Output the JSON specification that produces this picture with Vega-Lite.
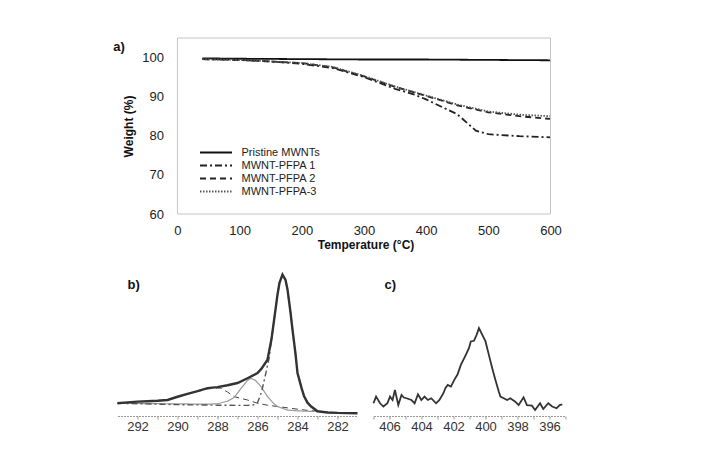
{
  "$schema": "https://vega.github.io/schema/vega-lite/v6.json",
  "padding": {"left": 112.5, "top": 37, "right": 5, "bottom": 5},
  "autosize": {"type": "pad"},
  "background": "white",
  "config": {"font": "Liberation Sans", "view": {"stroke": null}},
  "spacing": 18,
  "resolve": {
    "scale": {"color": "independent", "strokeDash": "independent", "strokeWidth": "independent"},
    "legend": {"color": "independent", "strokeDash": "independent", "strokeWidth": "independent"}
  },
  "datasets": {
    "tga": [
      {"s": "Pristine MWNTs", "T": 40, "w": 99.8},
      {"s": "Pristine MWNTs", "T": 100, "w": 99.7},
      {"s": "Pristine MWNTs", "T": 200, "w": 99.6},
      {"s": "Pristine MWNTs", "T": 300, "w": 99.5},
      {"s": "Pristine MWNTs", "T": 400, "w": 99.5},
      {"s": "Pristine MWNTs", "T": 500, "w": 99.4},
      {"s": "Pristine MWNTs", "T": 600, "w": 99.3},
      {"s": "MWNT-PFPA 1", "T": 40, "w": 99.6},
      {"s": "MWNT-PFPA 1", "T": 100, "w": 99.4},
      {"s": "MWNT-PFPA 1", "T": 150, "w": 99.0},
      {"s": "MWNT-PFPA 1", "T": 200, "w": 98.4},
      {"s": "MWNT-PFPA 1", "T": 250, "w": 97.3},
      {"s": "MWNT-PFPA 1", "T": 300, "w": 95.0},
      {"s": "MWNT-PFPA 1", "T": 350, "w": 92.0},
      {"s": "MWNT-PFPA 1", "T": 380, "w": 90.6},
      {"s": "MWNT-PFPA 1", "T": 400, "w": 89.3},
      {"s": "MWNT-PFPA 1", "T": 450, "w": 85.5},
      {"s": "MWNT-PFPA 1", "T": 480, "w": 81.3},
      {"s": "MWNT-PFPA 1", "T": 500, "w": 80.4},
      {"s": "MWNT-PFPA 1", "T": 550, "w": 79.9},
      {"s": "MWNT-PFPA 1", "T": 600, "w": 79.6},
      {"s": "MWNT-PFPA 2", "T": 40, "w": 99.6},
      {"s": "MWNT-PFPA 2", "T": 100, "w": 99.4},
      {"s": "MWNT-PFPA 2", "T": 150, "w": 99.0},
      {"s": "MWNT-PFPA 2", "T": 200, "w": 98.6},
      {"s": "MWNT-PFPA 2", "T": 250, "w": 97.5},
      {"s": "MWNT-PFPA 2", "T": 300, "w": 95.2},
      {"s": "MWNT-PFPA 2", "T": 350, "w": 92.5},
      {"s": "MWNT-PFPA 2", "T": 400, "w": 90.2},
      {"s": "MWNT-PFPA 2", "T": 450, "w": 87.8},
      {"s": "MWNT-PFPA 2", "T": 500, "w": 86.0},
      {"s": "MWNT-PFPA 2", "T": 550, "w": 85.0},
      {"s": "MWNT-PFPA 2", "T": 600, "w": 84.3},
      {"s": "MWNT-PFPA-3", "T": 40, "w": 99.6},
      {"s": "MWNT-PFPA-3", "T": 100, "w": 99.4},
      {"s": "MWNT-PFPA-3", "T": 150, "w": 99.0},
      {"s": "MWNT-PFPA-3", "T": 200, "w": 98.6},
      {"s": "MWNT-PFPA-3", "T": 250, "w": 97.6},
      {"s": "MWNT-PFPA-3", "T": 300, "w": 95.3},
      {"s": "MWNT-PFPA-3", "T": 350, "w": 92.6},
      {"s": "MWNT-PFPA-3", "T": 400, "w": 90.3},
      {"s": "MWNT-PFPA-3", "T": 450, "w": 88.0},
      {"s": "MWNT-PFPA-3", "T": 500, "w": 86.2},
      {"s": "MWNT-PFPA-3", "T": 550, "w": 85.4},
      {"s": "MWNT-PFPA-3", "T": 600, "w": 85.0}
    ],
    "c1s": [
      {"c": "C 288", "eV": 293, "v": 8.6},
      {"c": "C 288", "eV": 292, "v": 9.6},
      {"c": "C 288", "eV": 291, "v": 10.2},
      {"c": "C 288", "eV": 290.5, "v": 10.8},
      {"c": "C 288", "eV": 290, "v": 12.8},
      {"c": "C 288", "eV": 289.5, "v": 14.8},
      {"c": "C 288", "eV": 289, "v": 16.5},
      {"c": "C 288", "eV": 288.5, "v": 18.3},
      {"c": "C 288", "eV": 288, "v": 18.9},
      {"c": "C 288", "eV": 287.83, "v": 18.8},
      {"c": "C 288", "eV": 287.5, "v": 16.2},
      {"c": "C 288", "eV": 287.17, "v": 13.1},
      {"c": "C 288", "eV": 286.5, "v": 10.8},
      {"c": "C 288", "eV": 286, "v": 8.6},
      {"c": "C 288", "eV": 285.5, "v": 7.3},
      {"c": "C 288", "eV": 285, "v": 6.4},
      {"c": "C 288", "eV": 284.5, "v": 5.5},
      {"c": "C 288", "eV": 284, "v": 4.6},
      {"c": "C 288", "eV": 283.5, "v": 3.8},
      {"c": "C 288", "eV": 283, "v": 3.3},
      {"c": "C 288", "eV": 282.5, "v": 2.6},
      {"c": "C 286", "eV": 293, "v": 8.6},
      {"c": "C 286", "eV": 290, "v": 8.2},
      {"c": "C 286", "eV": 288.5, "v": 8.0},
      {"c": "C 286", "eV": 288, "v": 8.3},
      {"c": "C 286", "eV": 287.5, "v": 10.0},
      {"c": "C 286", "eV": 287.17, "v": 12.5},
      {"c": "C 286", "eV": 286.75, "v": 19.9},
      {"c": "C 286", "eV": 286.5, "v": 24.0},
      {"c": "C 286", "eV": 286.33, "v": 25.5},
      {"c": "C 286", "eV": 286.1, "v": 24.0},
      {"c": "C 286", "eV": 285.83, "v": 19.9},
      {"c": "C 286", "eV": 285.5, "v": 13.1},
      {"c": "C 286", "eV": 285.2, "v": 8.5},
      {"c": "C 286", "eV": 285, "v": 6.4},
      {"c": "C 286", "eV": 284.5, "v": 4.0},
      {"c": "C 286", "eV": 284, "v": 3.5},
      {"c": "C 286", "eV": 283.5, "v": 3.2},
      {"c": "C 286", "eV": 283, "v": 3.0},
      {"c": "C 284.7", "eV": 293, "v": 8.6},
      {"c": "C 284.7", "eV": 292, "v": 8.3},
      {"c": "C 284.7", "eV": 291, "v": 8.0},
      {"c": "C 284.7", "eV": 290, "v": 7.7},
      {"c": "C 284.7", "eV": 289, "v": 7.5},
      {"c": "C 284.7", "eV": 288, "v": 7.3},
      {"c": "C 284.7", "eV": 287, "v": 7.2},
      {"c": "C 284.7", "eV": 286.5, "v": 7.2},
      {"c": "C 284.7", "eV": 286.2, "v": 7.5},
      {"c": "C 284.7", "eV": 286, "v": 9.0},
      {"c": "C 284.7", "eV": 285.8, "v": 16},
      {"c": "C 284.7", "eV": 285.6, "v": 28},
      {"c": "C 284.7", "eV": 285.42, "v": 39},
      {"c": "C 284.7", "eV": 285.3, "v": 52},
      {"c": "C 284.7", "eV": 285.17, "v": 65},
      {"c": "C 284.7", "eV": 285, "v": 82},
      {"c": "C 284.7", "eV": 284.9, "v": 90},
      {"c": "C 284.7", "eV": 284.75, "v": 95.5},
      {"c": "C 284.7", "eV": 284.6, "v": 92},
      {"c": "C 284.7", "eV": 284.5, "v": 85.5},
      {"c": "C 284.7", "eV": 284.35, "v": 70},
      {"c": "C 284.7", "eV": 284.25, "v": 58.4},
      {"c": "C 284.7", "eV": 284.1, "v": 42},
      {"c": "C 284.7", "eV": 284, "v": 29},
      {"c": "C 284.7", "eV": 283.8, "v": 19},
      {"c": "C 284.7", "eV": 283.67, "v": 13.3},
      {"c": "C 284.7", "eV": 283.5, "v": 9},
      {"c": "C 284.7", "eV": 283.33, "v": 6.6},
      {"c": "C 284.7", "eV": 283, "v": 3.2},
      {"c": "C 284.7", "eV": 282.5, "v": 2.4},
      {"c": "C 284.7", "eV": 282, "v": 2.1},
      {"c": "C 284.7", "eV": 281, "v": 1.9},
      {"c": "Envelope", "eV": 293, "v": 8.6},
      {"c": "Envelope", "eV": 292.5, "v": 9.2},
      {"c": "Envelope", "eV": 292, "v": 9.7},
      {"c": "Envelope", "eV": 291.5, "v": 10.0},
      {"c": "Envelope", "eV": 291, "v": 10.3},
      {"c": "Envelope", "eV": 290.5, "v": 10.8},
      {"c": "Envelope", "eV": 290, "v": 13.0},
      {"c": "Envelope", "eV": 289.5, "v": 15.0},
      {"c": "Envelope", "eV": 289, "v": 16.8},
      {"c": "Envelope", "eV": 288.5, "v": 18.8},
      {"c": "Envelope", "eV": 288, "v": 19.5},
      {"c": "Envelope", "eV": 287.5, "v": 20.8},
      {"c": "Envelope", "eV": 287, "v": 22.3},
      {"c": "Envelope", "eV": 286.5, "v": 25.5},
      {"c": "Envelope", "eV": 286, "v": 29.0},
      {"c": "Envelope", "eV": 285.8, "v": 32},
      {"c": "Envelope", "eV": 285.5, "v": 38},
      {"c": "Envelope", "eV": 285.3, "v": 52},
      {"c": "Envelope", "eV": 285.17, "v": 65},
      {"c": "Envelope", "eV": 285, "v": 82},
      {"c": "Envelope", "eV": 284.9, "v": 90},
      {"c": "Envelope", "eV": 284.75, "v": 95.5},
      {"c": "Envelope", "eV": 284.6, "v": 92},
      {"c": "Envelope", "eV": 284.5, "v": 85.5},
      {"c": "Envelope", "eV": 284.35, "v": 70},
      {"c": "Envelope", "eV": 284.25, "v": 58.4},
      {"c": "Envelope", "eV": 284.1, "v": 42},
      {"c": "Envelope", "eV": 284, "v": 29},
      {"c": "Envelope", "eV": 283.8, "v": 19},
      {"c": "Envelope", "eV": 283.67, "v": 13.3},
      {"c": "Envelope", "eV": 283.5, "v": 9},
      {"c": "Envelope", "eV": 283.33, "v": 6.6},
      {"c": "Envelope", "eV": 283, "v": 3.2},
      {"c": "Envelope", "eV": 282.5, "v": 2.4},
      {"c": "Envelope", "eV": 282, "v": 2.1},
      {"c": "Envelope", "eV": 281, "v": 1.9}
    ],
    "n1s": [
      {"eV": 407.0, "v": 8.6},
      {"eV": 406.84, "v": 13.1},
      {"eV": 406.59, "v": 8.6},
      {"eV": 406.38, "v": 6.4},
      {"eV": 406.13, "v": 8.6},
      {"eV": 405.97, "v": 13.1},
      {"eV": 405.81, "v": 10.8},
      {"eV": 405.66, "v": 17.6},
      {"eV": 405.45, "v": 7.4},
      {"eV": 405.25, "v": 14.2},
      {"eV": 405.1, "v": 12.5},
      {"eV": 404.94, "v": 12.0},
      {"eV": 404.63, "v": 10.8},
      {"eV": 404.43, "v": 8.6},
      {"eV": 404.22, "v": 14.7},
      {"eV": 404.01, "v": 10.8},
      {"eV": 403.81, "v": 13.1},
      {"eV": 403.6, "v": 10.8},
      {"eV": 403.39, "v": 12.0},
      {"eV": 403.09, "v": 8.6},
      {"eV": 402.88, "v": 10.8},
      {"eV": 402.63, "v": 15.4},
      {"eV": 402.5, "v": 19},
      {"eV": 402.36, "v": 21},
      {"eV": 402.16, "v": 19.9},
      {"eV": 401.95, "v": 24.4},
      {"eV": 401.75, "v": 28},
      {"eV": 401.54, "v": 34.5},
      {"eV": 401.33, "v": 39.1},
      {"eV": 401.2, "v": 42},
      {"eV": 401.03, "v": 46},
      {"eV": 400.92, "v": 50.4},
      {"eV": 400.72, "v": 50.8},
      {"eV": 400.55, "v": 55},
      {"eV": 400.41, "v": 59.4},
      {"eV": 400.2, "v": 54.8},
      {"eV": 400.0, "v": 50.4},
      {"eV": 399.79, "v": 41.3},
      {"eV": 399.58, "v": 32.3},
      {"eV": 399.38, "v": 24.4},
      {"eV": 399.17, "v": 16.5},
      {"eV": 399.07, "v": 13.1},
      {"eV": 398.86, "v": 12.0},
      {"eV": 398.65, "v": 10.8},
      {"eV": 398.45, "v": 12.0},
      {"eV": 398.14, "v": 9.7},
      {"eV": 397.93, "v": 7.4},
      {"eV": 397.62, "v": 12.6},
      {"eV": 397.41, "v": 7.4},
      {"eV": 397.1, "v": 7.0},
      {"eV": 396.9, "v": 4.1},
      {"eV": 396.59, "v": 8.6},
      {"eV": 396.39, "v": 4.7},
      {"eV": 396.08, "v": 8.6},
      {"eV": 395.83, "v": 6.4},
      {"eV": 395.56, "v": 5.2},
      {"eV": 395.36, "v": 7.4},
      {"eV": 395.2, "v": 7.9}
    ]
  },
  "vconcat": [
    {
      "width": 433,
      "height": 176,
      "title": {"text": "a)", "anchor": "start", "frame": "group", "fontSize": 13, "fontWeight": "bold", "color": "#111", "dx": -4.2, "dy": 20},
      "layer": [
        {
          "data": {"name": "tga"},
          "mark": {"type": "line"},
          "encoding": {
            "x": {
              "field": "T", "type": "quantitative",
              "scale": {"domain": [-96.4, 600], "nice": false, "zero": false},
              "axis": {"values": [0, 100, 200, 300, 400, 500, 600], "labelFlush": false, "title": "Temperature (°C)", "titleX": 248, "grid": false, "domain": false, "ticks": false, "labelPadding": 10, "labelFontSize": 13, "labelColor": "#222", "titleFontSize": 12, "titleFontWeight": "bold", "titleColor": "#111", "titlePadding": 2}
            },
            "y": {
              "field": "w", "type": "quantitative",
              "scale": {"domain": [60, 105], "nice": false, "zero": false},
              "axis": {"values": [60, 70, 80, 90, 100], "offset": -60, "title": "Weight (%)", "grid": false, "domain": false, "ticks": false, "labelPadding": 14, "labelFontSize": 13, "labelColor": "#222", "titleFontSize": 12, "titleFontWeight": "bold", "titleColor": "#111", "titlePadding": 6}
            },
            "strokeDash": {
              "field": "s", "type": "nominal",
              "scale": {"domain": ["Pristine MWNTs", "MWNT-PFPA 1", "MWNT-PFPA 2", "MWNT-PFPA-3"], "range": [[1, 0], [7, 3, 2, 3], [6, 4], [1.5, 1.5]]},
              "legend": {"title": null, "orient": "none", "legendX": 93, "legendY": 109, "symbolType": "M-4,0H4", "symbolSize": 64, "labelFontSize": 11, "labelColor": "#222", "labelOffset": 20, "rowPadding": 1}
            },
            "strokeWidth": {
              "field": "s", "type": "nominal",
              "scale": {"domain": ["Pristine MWNTs", "MWNT-PFPA 1", "MWNT-PFPA 2", "MWNT-PFPA-3"], "range": [1.8, 1.8, 1.8, 1]},
              "legend": {"title": null, "orient": "none", "legendX": 93, "legendY": 109, "symbolType": "M-4,0H4", "symbolSize": 64, "labelFontSize": 11, "labelColor": "#222", "labelOffset": 20, "rowPadding": 1}
            },
            "color": {
              "field": "s", "type": "nominal",
              "scale": {"domain": ["Pristine MWNTs", "MWNT-PFPA 1", "MWNT-PFPA 2", "MWNT-PFPA-3"], "range": ["#111111", "#222222", "#222222", "#555555"]},
              "legend": {"title": null, "orient": "none", "legendX": 93, "legendY": 109, "symbolType": "M-4,0H4", "symbolSize": 64, "labelFontSize": 11, "labelColor": "#222", "labelOffset": 20, "rowPadding": 1}
            }
          }
        },
        {
          "data": {"values": [{}]},
          "mark": {"type": "rect", "fill": null, "stroke": "#c4c4c4", "strokeWidth": 1},
          "encoding": {
            "x": {"datum": 0, "type": "quantitative", "title": "Temperature (°C)"},
            "x2": {"datum": 600},
            "y": {"datum": 60, "type": "quantitative", "title": "Weight (%)"},
            "y2": {"datum": 105}
          }
        }
      ]
    },
    {
      "hconcat": [
        {
          "width": 240,
          "height": 148,
          "title": {"text": "b)", "anchor": "start", "frame": "group", "fontSize": 13, "fontWeight": "bold", "color": "#111", "dx": 10, "dy": 28},
          "data": {"name": "c1s"},
          "encoding": {
            "x": {
              "field": "eV", "type": "quantitative",
              "scale": {"domain": [293, 281], "nice": false, "zero": false},
              "axis": {"values": [282, 283, 284, 285, 286, 287, 288, 289, 290, 291, 292], "labelExpr": "datum.value % 2 == 0 ? datum.label : ''", "labelFlush": false, "title": null, "grid": false, "domainColor": "#999", "domainDash": [2, 1], "tickColor": "#999", "tickSize": 3, "labelPadding": 1, "labelFontSize": 13, "labelColor": "#333"}
            },
            "y": {"field": "v", "type": "quantitative", "scale": {"domain": [0, 100], "nice": false}, "axis": null}
          },
          "layer": [
            {
              "transform": [{"filter": "datum.c != 'Envelope'"}],
              "mark": {"type": "line"},
              "encoding": {
                "strokeDash": {
                  "field": "c", "type": "nominal",
                  "scale": {"domain": ["C 284.7", "C 286", "C 288"], "range": [[6, 3, 2, 3], [1, 0], [6, 4]]},
                  "legend": null
                },
                "strokeWidth": {
                  "field": "c", "type": "nominal",
                  "scale": {"domain": ["C 284.7", "C 286", "C 288"], "range": [1.4, 1, 1.8]},
                  "legend": null
                },
                "color": {
                  "field": "c", "type": "nominal",
                  "scale": {"domain": ["C 284.7", "C 286", "C 288"], "range": ["#555555", "#999999", "#444444"]},
                  "legend": null
                }
              }
            },
            {
              "transform": [{"filter": "datum.c == 'Envelope'"}],
              "mark": {"type": "line", "color": "#333333", "strokeWidth": 2.4}
            }
          ]
        },
        {
          "width": 192,
          "height": 148,
          "title": {"text": "c)", "anchor": "start", "frame": "group", "fontSize": 13, "fontWeight": "bold", "color": "#111", "dx": 11, "dy": 28},
          "data": {"name": "n1s"},
          "mark": {"type": "line", "color": "#333333", "strokeWidth": 1.8},
          "encoding": {
            "x": {
              "field": "eV", "type": "quantitative",
              "scale": {"domain": [407, 395], "nice": false, "zero": false},
              "axis": {"values": [395, 396, 397, 398, 399, 400, 401, 402, 403, 404, 405, 406, 407], "labelExpr": "datum.value % 2 == 0 ? datum.label : ''", "labelFlush": false, "title": null, "grid": false, "domainColor": "#999", "domainDash": [2, 1], "tickColor": "#999", "tickSize": 3, "labelPadding": 1, "labelFontSize": 13, "labelColor": "#333"}
            },
            "y": {"field": "v", "type": "quantitative", "scale": {"domain": [0, 100], "nice": false}, "axis": null}
          }
        }
      ],
      "spacing": 7
    }
  ]
}
